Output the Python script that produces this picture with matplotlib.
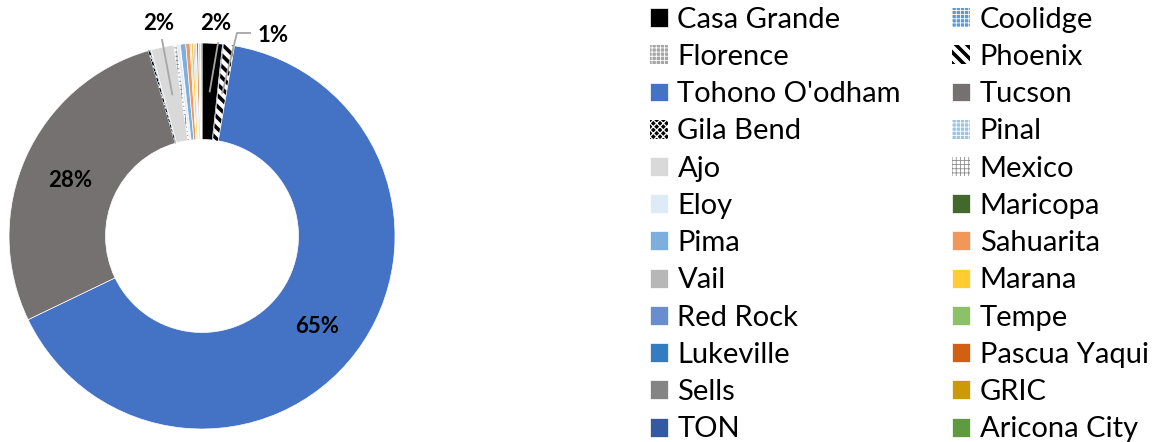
import numpy as np
import matplotlib.pyplot as plt

plt.rcParams['font.family'] = ['Lato', 'DejaVu Sans']
plt.rcParams['hatch.linewidth'] = 0.6

# Dane (kolejność jak w legendzie / na wykresie, zgodnie z ruchem wskazówek zegara od góry)
miejsca = ["Casa Grande", "Coolidge", "Florence", "Phoenix", "Tohono O'odham", "Tucson",
           "Gila Bend", "Pinal", "Ajo", "Mexico", "Eloy", "Maricopa",
           "Pima", "Sahuarita", "Vail", "Marana", "Red Rock", "Tempe",
           "Lukeville", "Pascua Yaqui", "Sells", "GRIC", "TON", "Aricona City"]
udzial = [1.7, 0.05, 0.05, 0.9, 65.3, 27.7,
          0.15, 0.1, 1.9, 0.25, 0.25, 0.05,
          0.45, 0.35, 0.1, 0.2, 0.1, 0.1,
          0.05, 0.15, 0.05, 0.1, 0.05, 0.1]
etykiety = ["2%", "", "", "1%", "65%", "28%",
            "", "", "2%", "", "", "",
            "", "", "", "", "", "",
            "", "", "", "", "", ""]

# Styl: (kolor wypełnienia, kolor kreskowania, wzór, grubość kreskowania)
styl = [("#000000", None, None, 0),
        ("#5B9BD5", "#FFFFFF", "++++", 0.6),
        ("#A5A5A5", "#FFFFFF", "++++", 0.6),
        ("#FFFFFF", "#000000", "\\\\\\", 2.6),
        ("#4472C4", None, None, 0),
        ("#767171", None, None, 0),
        ("#000000", "#FFFFFF", "xxxxx", 0.9),
        ("#9DC3E6", "#FFFFFF", "++++", 0.6),
        ("#D9D9D9", None, None, 0),
        ("#FFFFFF", "#8C8C8C", "++++", 0.6),
        ("#DDEBF7", None, None, 0),
        ("#43682B", None, None, 0),
        ("#7CAFDD", None, None, 0),
        ("#F1975A", None, None, 0),
        ("#B7B7B7", None, None, 0),
        ("#FFCD33", None, None, 0),
        ("#698ED0", None, None, 0),
        ("#8CC168", None, None, 0),
        ("#327DC2", None, None, 0),
        ("#D26012", None, None, 0),
        ("#848484", None, None, 0),
        ("#CC9A06", None, None, 0),
        ("#335AA1", None, None, 0),
        ("#5E9B3F", None, None, 0)]


def ustaw_kreskowanie(p, lw):
    try:
        p.set_hatch_linewidth(lw)
    except AttributeError:
        pass


fig = plt.figure(figsize=(11.57, 4.42), dpi=100)
ax = fig.add_axes([0.0078, 0.0294, 0.3336, 0.8733])

wedges, _ = ax.pie(udzial, startangle=90, counterclock=False, radius=1,
                   wedgeprops=dict(width=0.5))
for w, (fc, hc, h, hlw) in zip(wedges, styl):
    w.set_facecolor(fc)
    if h:
        w.set_edgecolor(hc)
        w.set_hatch(h)
        w.set_linewidth(0)
        ustaw_kreskowanie(w, hlw)
    else:
        w.set_edgecolor("white")
        w.set_linewidth(0.5)

ax.set_xlim(-1, 1)
ax.set_ylim(-1, 1)
ax.set_aspect("equal")
ax.axis("off")

# Etykiety danych
suma = sum(udzial)
kum = 0
szary = "#A6A6A6"
for i, (v, lab) in enumerate(zip(udzial, etykiety)):
    srodek = (kum + v / 2) / suma * 2 * np.pi
    kum += v
    if not lab:
        continue
    x, y = 0.75 * np.sin(srodek), 0.75 * np.cos(srodek)
    if v > 10:
        ax.text(x, y - 0.02, lab, ha="center", va="center",
                fontsize=16, fontweight="bold")
    elif lab == "1%":
        ax.plot([x, 0.181, 0.249], [y, 1.052, 1.052],
                color=szary, lw=1.3, clip_on=False)
        ax.text(0.29, 1.037, lab, ha="left", va="center",
                fontsize=16, fontweight="bold")
    elif x > 0:
        ax.plot([x, 0.083], [y, 1.0], color=szary, lw=1.3, clip_on=False)
        ax.text(0.073, 1.099, lab, ha="center", va="center",
                fontsize=16, fontweight="bold")
    else:
        ax.plot([x, -0.207], [y, 1.016], color=szary, lw=1.3, clip_on=False)
        ax.text(-0.223, 1.099, lab, ha="center", va="center",
                fontsize=16, fontweight="bold")

# Legenda w dwóch kolumnach, wypełniana wierszami
kolejnosc = list(range(0, len(miejsca), 2)) + list(range(1, len(miejsca), 2))
leg = fig.legend([wedges[i] for i in kolejnosc], [miejsca[i] for i in kolejnosc],
                 ncol=2, loc="upper left", bbox_to_anchor=(0.5515, 1.011),
                 frameon=False, fontsize=21, handlelength=0.62, handleheight=0.62,
                 handletextpad=0.33, labelspacing=0.385, columnspacing=1.75,
                 borderaxespad=0)
for uchwyt, i in zip(leg.legend_handles, kolejnosc):
    if styl[i][2]:
        ustaw_kreskowanie(uchwyt, styl[i][3])

fig.savefig("out.png", dpi=100)
